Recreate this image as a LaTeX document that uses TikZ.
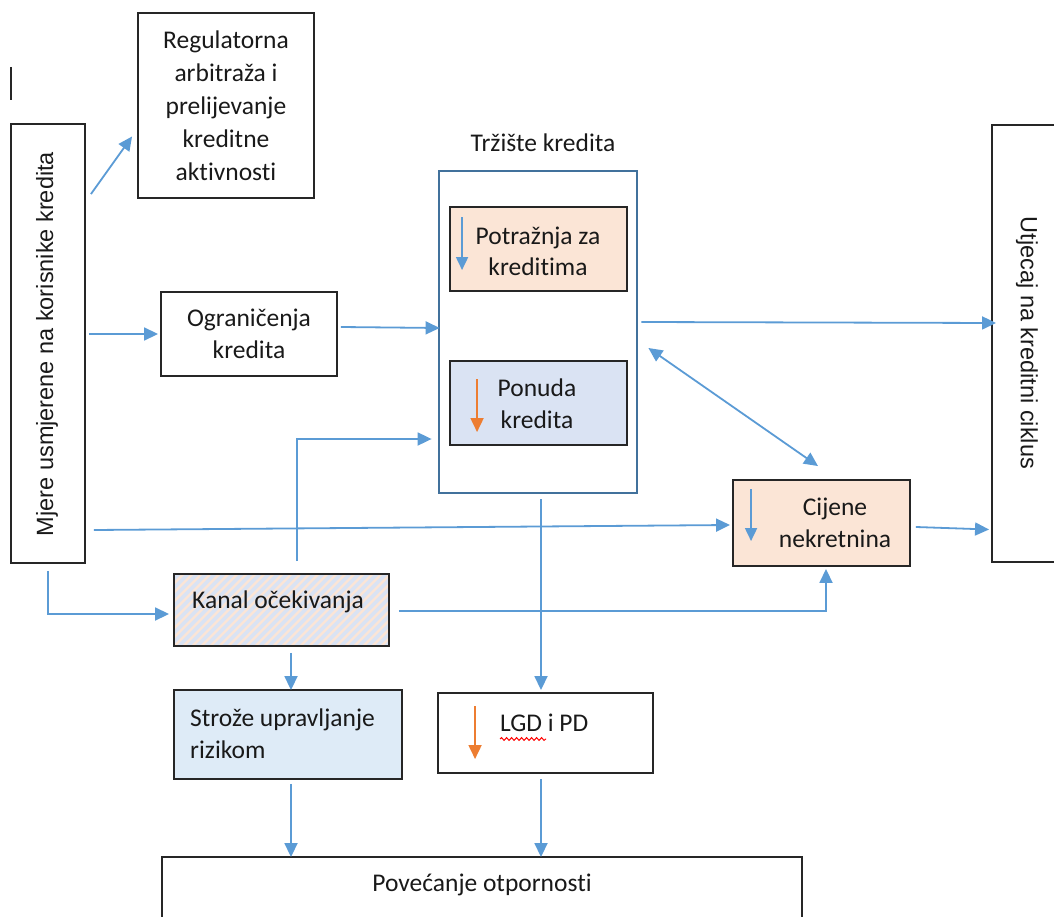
\documentclass[tikz,border=0pt]{standalone}
\usepackage{fontspec}
\setmainfont{Carlito}[Ligatures=NoCommon]
\newfontfamily\arialf{Liberation Sans}
\usetikzlibrary{arrows.meta,calc,decorations.pathmorphing}
\definecolor{ablue}{HTML}{5B9BD5}
\definecolor{aorange}{HTML}{ED7D31}
\definecolor{peach}{HTML}{FBE5D6}
\definecolor{lblue}{HTML}{DAE3F3}
\definecolor{lblue2}{HTML}{DEEBF7}
\definecolor{cont}{HTML}{41719C}
\definecolor{boxc}{HTML}{262626}
\begin{document}
\begin{tikzpicture}[x=1pt,y=-1pt,
  every node/.style={font=\fontsize{25.5}{33}\selectfont, text=black!90},
  box/.style={draw=boxc, line width=1.9pt, inner sep=0pt},
  arr/.style={draw=ablue, line width=1.8pt, -{Triangle[length=14pt,width=13pt]}},
  darr/.style={draw=ablue, line width=1.8pt, {Triangle[length=14pt,width=13pt]}-{Triangle[length=14pt,width=13pt]}},
  barr/.style={draw=ablue, line width=1.8pt, -{Triangle[length=13pt,width=12pt]}},
  oarr/.style={draw=aorange, line width=1.8pt, -{Triangle[length=14pt,width=13pt]}},
  lbl/.style={align=center, inner sep=0pt}
]
\useasboundingbox (0,0) rectangle (1054,917);

% stray line
\draw[boxc, line width=1.9pt] (11,67) coordinate (s1) -- (11,100) coordinate (s2);

% boxes
\node[box, minimum width=176pt, minimum height=185pt] (reg) at (226,105.5) {};
\node[lbl] (regt) at (226,105.5) {Regulatorna\\arbitraža i\\prelijevanje\\kreditne\\aktivnosti};

\node[box, minimum width=74pt, minimum height=439pt] (mjere) at (48,343.5) {};
\node[lbl, rotate=90, font=\arialf\fontsize{23.5}{28}\selectfont] (mjeret) at (47,344) {Mjere usmjerene na korisnike kredita};

\node[box, minimum width=176pt, minimum height=84pt] (ogr) at (249,334) {};
\node[lbl, font=\fontsize{25.5}{32}\selectfont] (ogrt) at (249,334) {Ograničenja\\kredita};

\node[lbl] (trzt) at (543,143) {Tržište kredita};
\node[draw=cont, line width=2.8pt, minimum width=198pt, minimum height=322pt, inner sep=0pt] (trz) at (538,332) {};

\node[box, fill=peach, minimum width=177pt, minimum height=84pt] (pot) at (538.5,249) {};
\node[lbl, font=\fontsize{25.5}{31}\selectfont] (pott) at (538,251) {Potražnja za\\kreditima};
\draw[barr] ($(pot.north west)+(13,11)$) coordinate (pa1) -- ($(pot.north west)+(13,64)$) coordinate (pa2);

\node[box, fill=lblue, minimum width=177pt, minimum height=84pt] (pon) at (538.5,403) {};
\node[lbl, font=\fontsize{25.5}{32}\selectfont] (pont) at (537,404) {Ponuda\\kredita};
\draw[oarr] ($(pon.north west)+(28,19)$) coordinate (oa1) -- ($(pon.north west)+(28,72)$) coordinate (oa2);

\node[box, minimum width=70pt, minimum height=437pt] (utj) at (1027,343.5) {};
\node[lbl, rotate=-90, font=\arialf\fontsize{23.5}{28}\selectfont] (utjt) at (1027,343) {Utjecaj na kreditni ciklus};

\node[box, fill=peach, minimum width=177pt, minimum height=86pt] (cij) at (821.5,523) {};
\node[lbl, font=\fontsize{25.5}{32}\selectfont] (cijt) at (835,523) {Cijene\\nekretnina};
\draw[barr] ($(cij.north west)+(19,10)$) coordinate (ca1) -- ($(cij.north west)+(19,62)$) coordinate (ca2);

\node[box, fill=peach, minimum width=215pt, minimum height=72pt,
  path picture={
    \foreach \i in {-100,-91,...,230}
      \draw[lblue, line width=3.6pt] ($(path picture bounding box.south west)+(\i,6)$) -- +(90,-90);
  }] (kanal) at (281.5,610) {};
\node[anchor=west, inner sep=0pt] (kanalt) at (192,602) {Kanal očekivanja};

\node[box, fill=lblue2, minimum width=228pt, minimum height=89pt] (stroze) at (288,734.5) {};
\node[anchor=west, align=left, inner sep=0pt, font=\fontsize{25.5}{32}\selectfont] (strozet) at (190,734) {Strože upravljanje\\rizikom};

\node[box, minimum width=215pt, minimum height=80pt] (lgd) at (545.5,733) {};
\node[anchor=base west, inner sep=0pt] (lgdt) at (500,731) {LGD i PD};
\draw[oarr] ($(lgd.north west)+(38,14)$) coordinate (la1) -- ($(lgd.north west)+(38,67)$) coordinate (la2);
\draw[red, line width=1pt, decorate, decoration={snake, amplitude=1.4pt, segment length=5pt}]
  ($(lgdt.base west)+(0,8)$) coordinate (w1) -- ($(lgdt.base west)+(46,8)$) coordinate (w2);

\node[box, minimum width=640pt, minimum height=80pt] (pov) at (482,897) {};
\node[lbl] (povt) at (482,885) {Povećanje otpornosti};

% connectors
\draw[arr] ($(mjere.north east)+(5,71)$) -- ($(reg.west)+(-5,31)$);
\draw[arr, shorten <=3pt, shorten >=2pt] (mjere.east |- ogr.west) -- (ogr.west);
\draw[arr] ($(ogr.east)+(3,-7)$) coordinate (o1) -- ($(trz.west |- o1)+(2,1)$);
\draw[arr] ($(trz.east)+(3,-10)$) coordinate (t1) -- ($(utj.west |- t1)+(5,1)$);
\draw[darr] ($(trz.east)+(10,16)$) -- ($(cij.north)+(-3.5,-13)$);
\draw[arr] ($(mjere.east)+(8,186.5)$) -- ($(cij.west)+(-2,2)$);
\draw[arr] ($(kanal.north)+(15.5,-12)$) |- ($(trz.west)+(-6,107)$);
\draw[arr] ($(mjere.south)+(0,7)$) |- ($(kanal.west)+(-4,4)$);
\draw[arr] ($(kanal.east)+(9,1)$) -| ($(cij.south)+(4.5,2)$);
\draw[arr] ($(kanal.south)+(9.5,6)$) coordinate (k1) -- ($(stroze.north -| k1)+(0,1)$);
\draw[arr] ($(trz.south)+(3,5)$) coordinate (t2) -- ($(lgd.north -| t2)+(0,-2)$);
\draw[arr] ($(cij.east)+(5,4)$) -- ($(utj.west)+(-2,186)$);
\draw[arr] ($(stroze.south)+(3,4)$) coordinate (s3) -- ($(pov.north -| s3)+(0,1)$);
\draw[arr] ($(lgd.south)+(-4.5,5)$) coordinate (l3) -- ($(pov.north -| l3)+(0,1)$);
\end{tikzpicture}
\end{document}
